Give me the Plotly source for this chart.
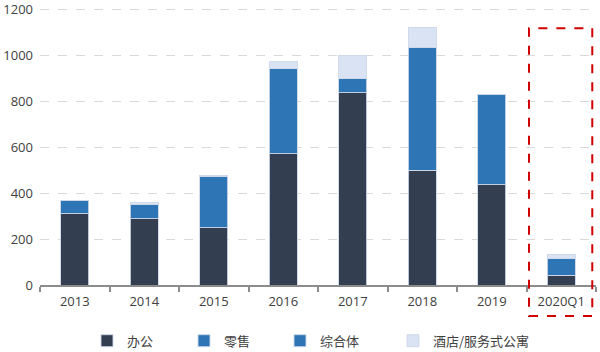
import plotly.graph_objects as go

categories = ["2013", "2014", "2015", "2016", "2017", "2018", "2019", "2020Q1"]
office = [310, 289, 249, 570, 837, 500, 437, 43]
retail = [57, 61, 221, 370, 63, 534, 393, 72]
complex_ = [0, 0, 0, 0, 0, 0, 0, 0]
hotel = [0, 8, 7, 30, 100, 88, 0, 19]
y_ticks = [0, 200, 400, 600, 800, 1000, 1200]

series = [
    ("办公", office, "#333f50"),
    ("零售", retail, "#2e75b6"),
    ("综合体", complex_, "#2e75b6"),
    ("酒店/服务式公寓", hotel, "#dae3f3"),
]
legend_ids = ["legend", "legend2", "legend3", "legend4"]
legend_left_px = [87, 184, 280, 393]

fig = go.Figure()
for (name, vals, color), lid in zip(series, legend_ids):
    fig.add_trace(go.Bar(
        x=categories, y=vals, name=name, width=0.4, legend=lid,
        marker=dict(color=color, line=dict(color="rgba(205,215,232,0.9)", width=1)),
    ))

plot_l, plot_w = 40, 556
legend_font = dict(family="Noto Sans CJK SC, sans-serif", size=13, color="#404040")
legends = {}
for lid, px in zip(legend_ids, legend_left_px):
    legends[lid] = dict(orientation="h", x=(px - plot_l) / plot_w, xanchor="left",
                        y=-0.145, yanchor="top", font=legend_font,
                        bgcolor="rgba(0,0,0,0)")

fig.update_layout(
    barmode="stack",
    width=600, height=352,
    margin=dict(l=40, r=4, t=4, b=67, autoexpand=False),
    paper_bgcolor="white", plot_bgcolor="white",
    font=dict(family="Open Sans, Noto Sans CJK SC, sans-serif", size=12, color="#404040"),
    showlegend=True,
    **legends,
)
fig.update_yaxes(range=[0, 1222], tickvals=y_ticks,
                 showgrid=True, gridcolor="#d9d9d9",
                 griddash="dash", gridwidth=1, zeroline=False, showline=False,
                 ticks="", ticklabelstandoff=6, tickfont=dict(size=13),
                 ticklabeloverflow="allow")
fig.update_xaxes(showline=True, linecolor="#8c8c8c", linewidth=1.5, ticks="outside",
                 tickson="boundaries", ticklen=5, tickcolor="#8c8c8c", tickwidth=1.5,
                 showgrid=False, ticklabelstandoff=4, tickfont=dict(size=13))

fig.add_shape(type="rect", xref="paper", yref="paper",
              x0=0.8795, x1=0.9933, y0=-0.1103, y1=0.914,
              line=dict(color="#d00000", width=2, dash="dash"), fillcolor="rgba(0,0,0,0)")

fig.write_html("out.html")
